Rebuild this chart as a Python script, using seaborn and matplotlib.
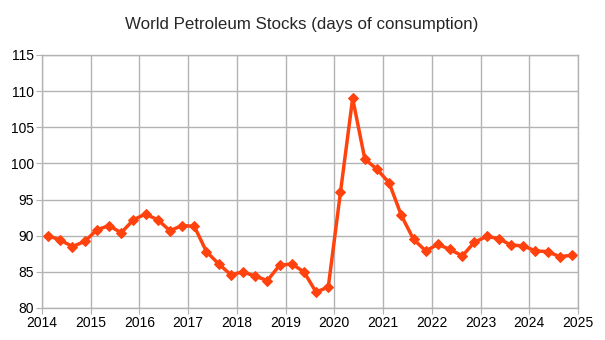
import matplotlib
matplotlib.use("Agg")
import matplotlib.pyplot as plt
import seaborn as sns
import pandas as pd

quarters = [f"{y}Q{q}" for y in range(2014, 2025) for q in range(1, 5)]
stocks = [
    90.0, 89.4, 88.5, 89.2,
    90.8, 91.4, 90.4, 92.2,
    93.0, 92.2, 90.7, 91.4,
    91.3, 87.8, 86.1, 84.6,
    85.0, 84.4, 83.8, 85.9,
    86.1, 85.0, 82.2, 82.9,
    96.0, 109.0, 100.6, 99.2,
    97.3, 92.8, 89.5, 87.9,
    88.8, 88.1, 87.2, 89.1,
    89.9, 89.6, 88.7, 88.6,
    87.9, 87.8, 87.1, 87.3,
]
x_ticks = list(range(2014, 2026))
y_ticks = [80, 85, 90, 95, 100, 105, 110, 115]
title = "World Petroleum Stocks (days of consumption)"

def q_to_year(s):
    y, q = s.split("Q")
    return int(y) + (int(q) - 1) / 4 + 0.125

df = pd.DataFrame({"t": [q_to_year(s) for s in quarters], "v": stocks})

sns.set_style("white")
plt.rcParams["font.family"] = ["Liberation Sans", "DejaVu Sans"]

fig = plt.figure(figsize=(6.05, 3.4), dpi=100)
ax = fig.add_axes([42 / 605, 1 - 308 / 340, (578 - 42) / 605, (308 - 55) / 340])
color = "#ff420e"
sns.lineplot(data=df, x="t", y="v", ax=ax, color=color, linewidth=2.5,
             marker="D", markersize=5.5, markeredgecolor=color, markerfacecolor=color)
ax.set_xlim(2014, 2025)
ax.set_ylim(80, 115)
ax.set_xticks(x_ticks)
ax.set_yticks(y_ticks)
ax.set_xlabel("")
ax.set_ylabel("")
ax.grid(True, color="#b3b3b3", linewidth=1)
ax.set_axisbelow(True)
for s in ax.spines.values():
    s.set_color("#b3b3b3")
    s.set_linewidth(1)
ax.tick_params(axis="both", which="both", length=4, color="#b3b3b3",
               labelsize=10, labelcolor="#000000", direction="out", pad=2,
               left=True, bottom=True)
fig.suptitle(title, x=302 / 605, y=1 - 25 / 340, va="center", fontsize=12.2)
fig.savefig("out.png", dpi=100)
